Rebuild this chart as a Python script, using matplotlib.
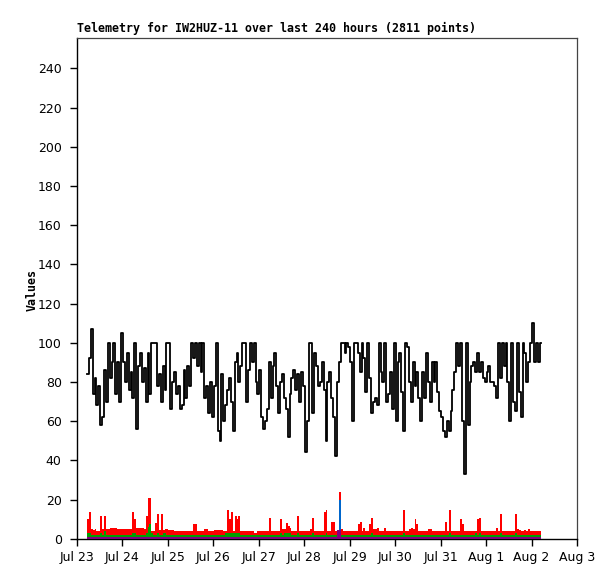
import numpy as np
import pandas as pd
import matplotlib
matplotlib.use("Agg")
import matplotlib.pyplot as plt

# ---------------- data ----------------
title = "Telemetry for IW2HUZ-11 over last 240 hours (2811 points)"
ylabel = "Values"
start_time = "2024-07-23 05:15"
x_start, x_end = "2024-07-23", "2024-08-03"
tick_labels = ["Jul 23", "Jul 24", "Jul 25", "Jul 26", "Jul 27", "Jul 28",
               "Jul 29", "Jul 30", "Jul 31", "Aug 1", "Aug 2", "Aug 3"]
y_ticks = [0, 20, 40, 60, 80, 100, 120, 140, 160, 180, 200, 220, 240]

black = [
    84, 92, 107, 74, 82, 68, 78, 58, 62, 86,
    70, 100, 82, 90, 100, 74, 90, 70, 105, 90,
    80, 95, 76, 85, 72, 100, 56, 88, 95, 80,
    87, 70, 95, 74, 100, 100, 100, 78, 84, 70,
    88, 76, 100, 100, 66, 80, 85, 74, 78, 66,
    68, 86, 72, 88, 78, 100, 92, 100, 88, 100,
    85, 100, 72, 78, 64, 80, 62, 78, 100, 55,
    50, 84, 60, 68, 76, 82, 70, 55, 90, 95,
    80, 88, 100, 100, 70, 86, 100, 90, 100, 80,
    74, 86, 62, 56, 60, 66, 90, 72, 88, 95,
    78, 64, 80, 84, 72, 66, 52, 74, 82, 86,
    76, 84, 70, 85, 78, 44, 60, 100, 100, 64,
    95, 88, 78, 80, 90, 76, 50, 80, 85, 72,
    62, 42, 80, 90, 100, 100, 95, 100, 98, 90,
    60, 100, 100, 95, 85, 100, 92, 75, 100, 82,
    64, 70, 72, 68, 100, 85, 80, 100, 70, 74,
    85, 66, 100, 60, 90, 95, 75, 55, 100, 98,
    80, 70, 90, 78, 85, 72, 60, 85, 72, 95,
    80, 70, 90, 80, 90, 75, 65, 62, 55, 52,
    60, 55, 65, 76, 85, 100, 88, 100, 60, 33,
    100, 58, 80, 88, 90, 85, 95, 85, 90, 82,
    80, 85, 88, 80, 80, 78, 72, 100, 82, 100,
    88, 100, 80, 60, 100, 70, 65, 100, 75, 62,
    100, 95, 80, 90, 100, 110, 90, 100, 90, 100,
]

red = [
    10, 13.8, 4.8, 4.3, 4.8, 4, 4, 11.6, 4.8, 11.6,
    4.8, 4.8, 5.5, 5.5, 5.5, 5.5, 4.8, 4.8, 4.8, 4.8,
    4.8, 4.8, 4.8, 4.8, 13.6, 10, 5.5, 5.5, 5.5, 5.5,
    5, 11.6, 20.8, 20.8, 3.8, 3.8, 7.8, 12.6, 4.3, 12.6,
    4.3, 4.8, 4.8, 4.3, 4.3, 4.3, 3.7, 3.7, 3.7, 3.7,
    3.7, 3.7, 3.7, 3.7, 3.7, 3.7, 7.3, 7.3, 3.7, 3.7,
    3.7, 3.7, 4.8, 4.8, 3.7, 3.7, 3.7, 4.3, 4.3, 4.3,
    4.3, 4.3, 4, 4, 14.6, 10, 13.6, 3.7, 11.6, 10,
    11.6, 3.7, 3.7, 3.7, 3.7, 3.7, 3.7, 3.7, 3.1, 3.1,
    3.7, 3.7, 3.7, 3.7, 3.7, 3.7, 10.6, 3.7, 3.7, 3.7,
    3.7, 3.7, 10, 4.8, 4.8, 7.8, 6.5, 5.5, 3.7, 3.7,
    3.7, 11.6, 3.7, 3.7, 3.7, 3.7, 3.7, 3.7, 4.8, 10.6,
    3.7, 3.7, 3.7, 3.7, 3.7, 13.8, 14.6, 3.7, 3.7, 8.5,
    8.5, 3.7, 3.7, 24, 4.8, 3.7, 3.7, 3.7, 3.7, 3.7,
    3.7, 3.7, 3.7, 7.3, 8.5, 3.7, 5.5, 3.7, 3.7, 7.3,
    10.6, 4.8, 4.8, 5.5, 3.7, 3.7, 3.7, 5.5, 3.7, 3.7,
    3.7, 3.7, 3.7, 3.7, 3.7, 3.7, 3.7, 14.6, 3.7, 3.7,
    4.8, 5.5, 4.8, 10, 7.3, 3.7, 3.7, 3.7, 3.7, 3.7,
    4.8, 4.8, 3.7, 3.7, 3.7, 3.7, 3.7, 3.7, 3.7, 8.5,
    3.7, 14.6, 3.7, 3.7, 3.7, 3.7, 3.7, 10, 7.3, 3.7,
    3.7, 3.7, 3.7, 3.7, 3.7, 3.7, 10, 10.6, 3.7, 3.7,
    3.7, 3.7, 3.7, 3.7, 3.7, 3.7, 5.5, 3.7, 12.6, 3.7,
    3.7, 3.7, 3.7, 3.7, 3.7, 3.7, 12.6, 4.8, 4.3, 3.7,
    3.7, 4.3, 3.7, 4.8, 3.7, 3.7, 3.7, 3.7, 3.7, 3.7,
]

green = [
    3.0, 3.0, 1.9, 1.9, 1.9, 1.9, 1.9, 3.0, 1.9, 3.9,
    1.9, 1.9, 1.9, 1.9, 1.9, 1.9, 1.9, 1.9, 1.9, 1.9,
    1.9, 1.9, 1.9, 1.9, 3.0, 3.0, 1.9, 1.9, 1.9, 1.9,
    1.9, 3.0, 6, 7.3, 3, 1.9, 1.9, 3.0, 1.9, 1.9,
    3.0, 3.0, 1.9, 1.9, 1.9, 1.9, 1.9, 1.9, 1.9, 1.9,
    1.9, 1.9, 1.9, 1.9, 1.9, 1.9, 1.9, 1.9, 1.9, 1.9,
    1.9, 1.9, 1.9, 1.9, 1.9, 1.9, 1.9, 1.9, 1.9, 1.9,
    1.9, 1.9, 1.9, 3.0, 3.0, 3.0, 3.0, 3.0, 3.0, 3.0,
    3.0, 1.9, 1.9, 1.9, 1.9, 1.9, 1.9, 1.9, 1.9, 1.9,
    1.9, 1.9, 1.9, 1.9, 1.9, 1.9, 1.9, 1.9, 1.9, 1.9,
    1.9, 1.9, 3.0, 1.9, 3.0, 3.0, 3.0, 3.0, 1.9, 1.9,
    1.9, 3.0, 1.9, 1.9, 1.9, 1.9, 1.9, 1.9, 1.9, 3.0,
    1.9, 1.9, 1.9, 1.9, 1.9, 1.9, 3.0, 1.9, 1.9, 1.9,
    1.9, 1.9, 3.0, 5, 1.9, 1.9, 1.9, 1.9, 1.9, 1.9,
    1.9, 1.9, 1.9, 1.9, 1.9, 1.9, 1.9, 1.9, 1.9, 1.9,
    3.0, 1.9, 1.9, 1.9, 1.9, 1.9, 1.9, 1.9, 1.9, 1.9,
    1.9, 1.9, 1.9, 1.9, 1.9, 1.9, 1.9, 3.0, 1.9, 1.9,
    1.9, 1.9, 1.9, 1.9, 1.9, 1.9, 1.9, 1.9, 1.9, 1.9,
    1.9, 1.9, 1.9, 1.9, 1.9, 1.9, 1.9, 1.9, 1.9, 1.9,
    1.9, 3.0, 1.9, 1.9, 1.9, 1.9, 1.9, 1.9, 1.9, 1.9,
    1.9, 1.9, 1.9, 1.9, 1.9, 3.0, 1.9, 3.0, 1.9, 1.9,
    1.9, 1.9, 1.9, 1.9, 1.9, 1.9, 1.9, 1.9, 3.0, 1.9,
    1.9, 1.9, 1.9, 1.9, 1.9, 1.9, 3.0, 1.9, 1.9, 1.9,
    1.9, 1.9, 1.9, 1.9, 1.9, 1.9, 1.9, 1.9, 1.9, 1.9,
]

# sparse step series: (hour offset, value)
purple_hours = [0, 132, 134, 240]
purple_vals = [0.9, 4.5, 0.9, 0.9]
blue_hours = [0, 133, 134, 240]
blue_vals = [0, 20, 0, 0]

# ---------------- plot ----------------
t0 = pd.Timestamp(start_time)
def hours_to_time(h):
    return t0 + pd.to_timedelta(np.asarray(h, dtype=float), unit="h")

n = len(black)
t_main = hours_to_time(np.arange(n + 1))
def ext(v):
    return list(v) + [v[-1]]

fig = plt.figure(figsize=(6.15, 5.79), dpi=100)
ax = fig.add_axes([77 / 615, 40.3 / 579, 500 / 615, 500.7 / 579])

ax.plot(t_main, ext(black), drawstyle="steps-post", color="black", lw=1.3, zorder=3)
ax.fill_between(t_main, 0, ext(red), step="post", color="#ff0000", lw=0, zorder=4)
ax.fill_between(t_main, 0, ext(green), step="post", color="#00a000", lw=0, zorder=5)
ax.fill_between(hours_to_time(blue_hours), 0, blue_vals, step="post", color="#0066cc", lw=0, zorder=6)
ax.fill_between(hours_to_time(purple_hours), 0, purple_vals, step="post", color="#800080", lw=0, zorder=7)

ax.set_xlim(pd.Timestamp(x_start), pd.Timestamp(x_end))
ax.set_ylim(0, 255.5)

ticks = pd.date_range(x_start, x_end, freq="D")
ax.set_xticks(ticks)
ax.set_xticklabels(tick_labels)
ax.set_yticks(y_ticks)
ax.set_yticklabels([str(v) for v in y_ticks])

ax.tick_params(axis="both", direction="out", length=5, width=1, colors="black",
               labelsize=9)
ax.tick_params(axis="y", pad=6)
ax.tick_params(axis="x", pad=4)
for lab in ax.get_xticklabels() + ax.get_yticklabels():
    lab.set_fontfamily("DejaVu Sans")

for s in ["left", "bottom"]:
    ax.spines[s].set_color("black")
    ax.spines[s].set_linewidth(1.0)
for s in ["top", "right"]:
    ax.spines[s].set_color("#444444")
    ax.spines[s].set_linewidth(0.9)

ax.text(0, 1.006, title, transform=ax.transAxes, ha="left", va="bottom",
        fontfamily="DejaVu Sans Mono", fontweight="bold", fontsize=8.4)
fig.text(32 / 615, 1 - 290 / 579, ylabel, rotation=90, ha="center", va="center",
         fontfamily="DejaVu Sans Mono", fontweight="bold", fontsize=8.4)

fig.savefig("out.png", dpi=100, facecolor="white")
